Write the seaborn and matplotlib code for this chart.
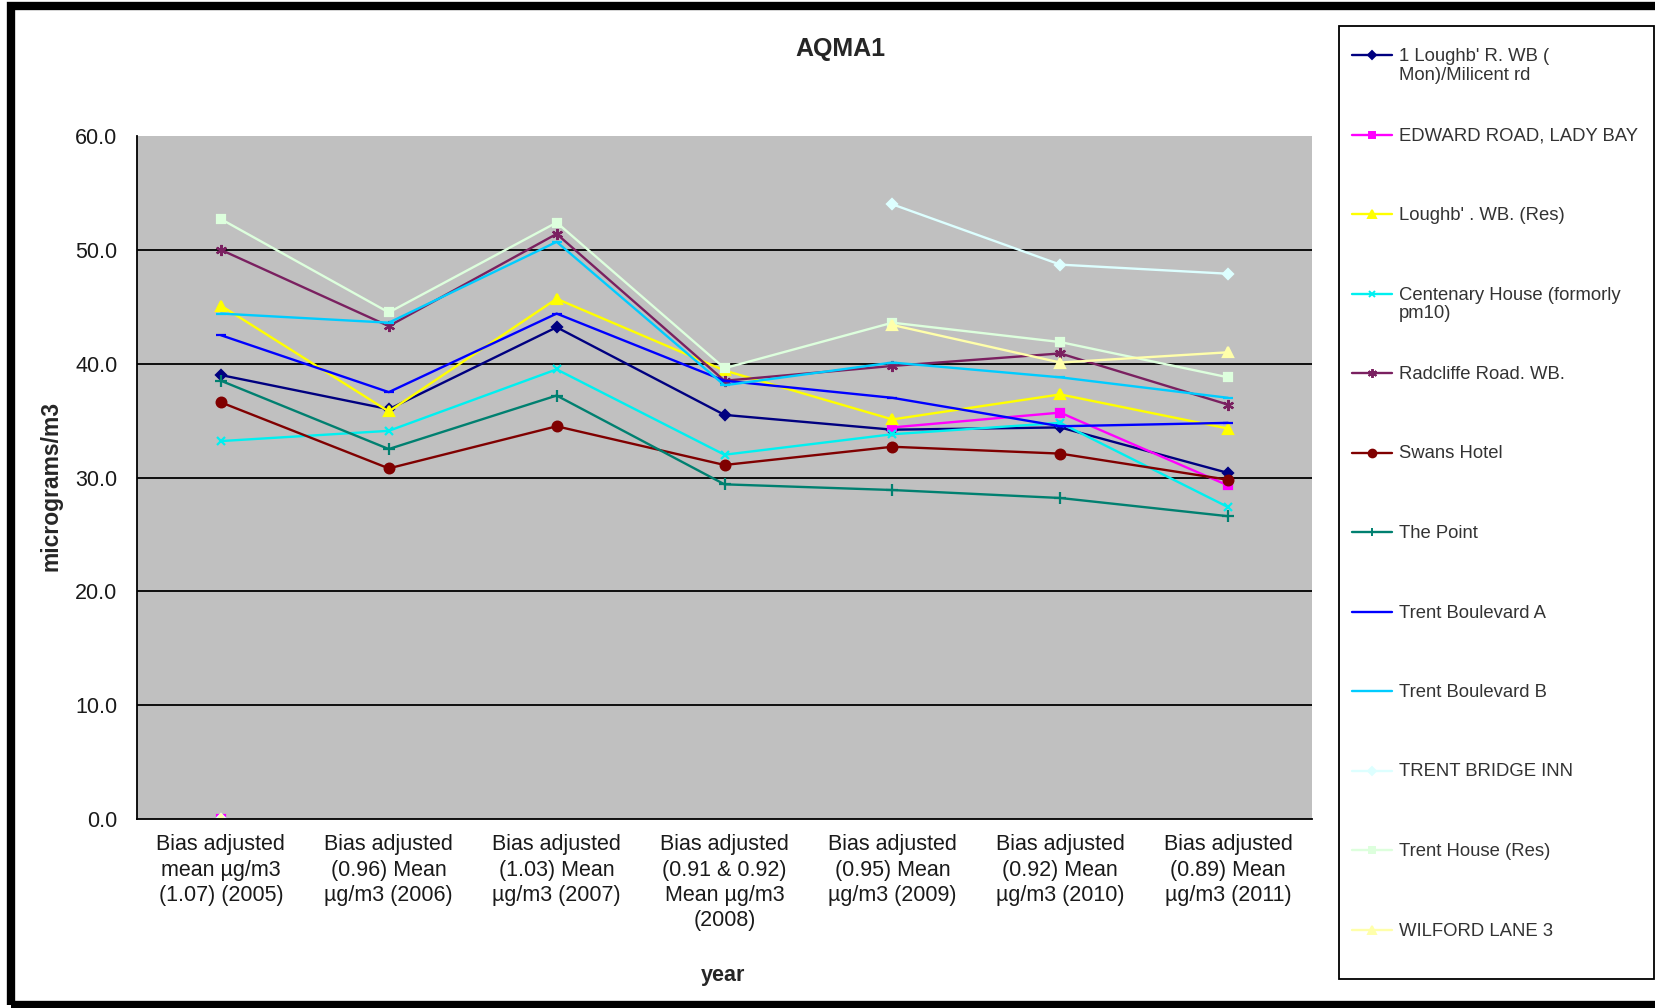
import numpy as np
import pandas as pd
import matplotlib
matplotlib.use("Agg")
import matplotlib.pyplot as plt
from matplotlib.lines import Line2D
from matplotlib.patches import Rectangle
import seaborn as sns

# ---- data -------------------------------------------------------------
categories = [
    "Bias adjusted\nmean µg/m3\n(1.07) (2005)",
    "Bias adjusted\n(0.96) Mean\nµg/m3 (2006)",
    "Bias adjusted\n(1.03) Mean\nµg/m3 (2007)",
    "Bias adjusted\n(0.91 & 0.92)\nMean µg/m3\n(2008)",
    "Bias adjusted\n(0.95) Mean\nµg/m3 (2009)",
    "Bias adjusted\n(0.92) Mean\nµg/m3 (2010)",
    "Bias adjusted\n(0.89) Mean\nµg/m3 (2011)",
]

site_names = [
    "1 Loughb' R. WB (\nMon)/Milicent rd",
    "EDWARD ROAD, LADY BAY",
    "Loughb' . WB. (Res)",
    "Centenary House (formorly\npm10)",
    "Radcliffe Road. WB.",
    "Swans Hotel",
    "The Point",
    "Trent Boulevard A",
    "Trent Boulevard B",
    "TRENT BRIDGE INN",
    "Trent House (Res)",
    "WILFORD LANE 3",
]

nan = np.nan
loughb_mon = [39.0, 36.0, 43.2, 35.5, 34.2, 34.4, 30.4]
edward_road = [0.0, nan, nan, nan, 34.4, 35.7, 29.3]
loughb_res = [45.1, 35.8, 45.7, 39.4, 35.1, 37.3, 34.3]
centenary_house = [33.2, 34.1, 39.5, 32.0, 33.8, 34.8, 27.4]
radcliffe_road = [50.0, 43.3, 51.4, 38.5, 39.8, 40.9, 36.4]
swans_hotel = [36.6, 30.8, 34.5, 31.1, 32.7, 32.1, 29.8]
the_point = [38.5, 32.5, 37.2, 29.4, 28.9, 28.2, 26.6]
trent_blvd_a = [42.5, 37.5, 44.4, 38.5, 37.0, 34.5, 34.8]
trent_blvd_b = [44.4, 43.6, 50.7, 38.1, 40.1, 38.8, 37.0]
trent_bridge_inn = [0.0, nan, nan, nan, 54.0, 48.7, 47.9]
trent_house = [52.7, 44.5, 52.4, 39.6, 43.6, 41.9, 38.8]
wilford_lane = [0.0, nan, nan, nan, 43.4, 40.1, 41.0]

series_values = [loughb_mon, edward_road, loughb_res, centenary_house,
                 radcliffe_road, swans_hotel, the_point, trent_blvd_a,
                 trent_blvd_b, trent_bridge_inn, trent_house, wilford_lane]

# ---- styling per series (Excel-like defaults) --------------------------
colors = ["#000080", "#FF00FF", "#FFFF00", "#00F0F0", "#7a2060", "#800000",
          "#008070", "#0000FF", "#00CCFF", "#DDFFFF", "#DDFFDD", "#FFFFAA"]
markers = ["D", "s", "^", "x", (6, 2, 0), "o", "+", "_", "_", "D", "s", "^"]
msizes = [5.5, 6, 7, 6, 8, 7, 8, 7, 7, 5.5, 6, 7]

# long-form table; a new segment starts after every gap so that
# missing years break the line
rows = []
for name, vals in zip(site_names, series_values):
    seg = 0
    prev_missing = False
    for pos, v in enumerate(vals):
        if np.isnan(v):
            prev_missing = True
            continue
        if prev_missing:
            seg += 1
            prev_missing = False
        rows.append({"site": name, "pos": pos, "value": v, "seg": seg})
df = pd.DataFrame(rows)

# ---- figure -----------------------------------------------------------
sns.set_style("white")
plt.rcParams["font.family"] = ["Liberation Sans", "DejaVu Sans"]

W, H = 1656, 1008
fig = plt.figure(figsize=(W / 100, H / 100), dpi=100)
fig.patch.set_facecolor("white")

def fx(px):
    return px / W

def fy(py):
    return 1 - py / H

left, right, top, bottom = 137, 1312, 136, 819
ax = fig.add_axes([fx(left), fy(bottom), fx(right - left), (bottom - top) / H])
ax.set_facecolor("#C0C0C0")

for name, col, mk, ms in zip(site_names, colors, markers, msizes):
    sub = df[df["site"] == name]
    sns.lineplot(data=sub, x="pos", y="value", units="seg", estimator=None,
                 color=col, marker=mk, markersize=ms, markeredgecolor=col,
                 markeredgewidth=1.6, linewidth=1.7, sort=False,
                 legend=False, ax=ax)

ax.set_xlim(-0.5, len(categories) - 0.5)
ax.set_ylim(0, 60)
ax.set_yticks(np.arange(0, 61, 10))
ax.set_yticklabels([f"{t:.1f}" for t in np.arange(0, 61, 10)], fontsize=15.5)
ax.set_xticks(range(len(categories)))
ax.set_xticklabels(categories, fontsize=15.5, linespacing=1.27, color="#1a1a1a")
ax.set_xticks(np.arange(-0.5, len(categories), 1.0), minor=True)
ax.tick_params(axis="x", which="major", length=0, pad=11)
ax.tick_params(axis="x", which="minor", length=6, width=1.2, color="black",
               direction="out")
ax.tick_params(axis="y", length=6, width=1.2, color="black", direction="out",
               pad=8, labelcolor="#1a1a1a")
ax.set_xlabel("")
ax.set_ylabel("")

ax.set_axisbelow(True)
ax.yaxis.grid(True, color="black", linewidth=1.3)
ax.xaxis.grid(False)
for gl, t in zip(ax.yaxis.get_gridlines(), np.arange(0, 61, 10)):
    if t in (0, 60):
        gl.set_visible(False)

for s in ("top", "right"):
    ax.spines[s].set_visible(False)
for s in ("left", "bottom"):
    ax.spines[s].set_color("black")
    ax.spines[s].set_linewidth(1.3)

# titles
fig.text(fx(840), fy(49), "AQMA1", ha="center", va="center",
         fontsize=18, fontweight="bold")
fig.text(fx(51), fy(486), "micrograms/m3", ha="center", va="center",
         rotation=90, fontsize=16.5, fontweight="bold")
fig.text(fx(723), fy(976), "year", ha="center", va="center",
         fontsize=15.5, fontweight="bold")

# legend box
lg_l, lg_t, lg_r, lg_b = 1339, 26, 1654, 979
fig.add_artist(Rectangle((fx(lg_l), fy(lg_b)), fx(lg_r - lg_l), (lg_b - lg_t) / H,
                         transform=fig.transFigure, facecolor="white",
                         edgecolor="black", linewidth=1.3))
for i, (name, col, mk, ms) in enumerate(zip(site_names, colors, markers, msizes)):
    yc = 55 + 79.5 * i
    fig.add_artist(Line2D([fx(1352), fx(1392)], [fy(yc), fy(yc)],
                          transform=fig.transFigure, color=col, linewidth=1.7))
    fig.add_artist(Line2D([fx(1372)], [fy(yc)], transform=fig.transFigure,
                          color=col, marker=mk, markersize=ms * 0.8,
                          markeredgecolor=col, markeredgewidth=1.4,
                          linestyle="none"))
    fig.text(fx(1399), fy(yc - 7), name, ha="left", va="top", fontsize=13.3,
             color="#333333", linespacing=1.15)

# outer frame of the chart
fig.add_artist(Rectangle((fx(11), fy(1005)), fx(1700), (1005 - 6) / H,
                         transform=fig.transFigure, facecolor="none",
                         edgecolor="black", linewidth=6, clip_on=False))

fig.savefig("out.png", dpi=100, facecolor="white")
